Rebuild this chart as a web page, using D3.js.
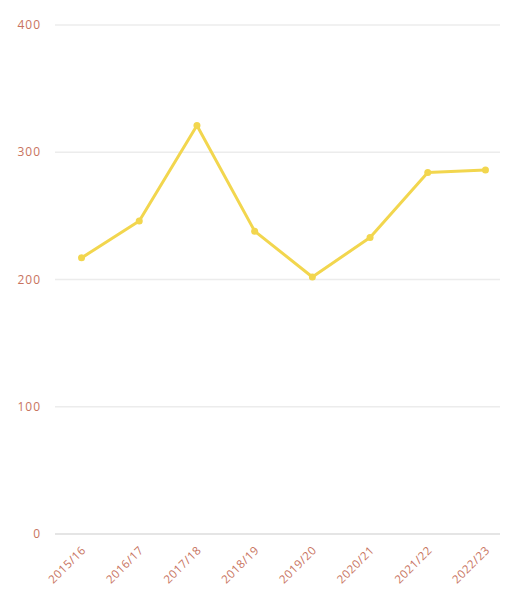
<!DOCTYPE html>
<html>
<head>
<meta charset="utf-8">
<script src="https://cdn.jsdelivr.net/npm/d3@7"></script>
<style>
  body { margin: 0; background: #fff; }
  text { font-family: "Open Sans", sans-serif; }
</style>
</head>
<body>
<svg id="chart"></svg>
<script>
const seasons = ["2015/16", "2016/17", "2017/18", "2018/19", "2019/20", "2020/21", "2021/22", "2022/23"];
const values = [217, 246, 321, 238, 202, 233, 284, 286];
const yTicks = [0, 100, 200, 300, 400];

const width = 505, height = 597;
const svg = d3.select("#chart").attr("width", width).attr("height", height);

const x = d3.scalePoint().domain(seasons).range([55, 512]).padding(0.46);
const y = d3.scaleLinear().domain([0, 400]).range([534, 25]);

// grid lines
svg.append("g").selectAll("line")
  .data(yTicks)
  .join("line")
  .attr("x1", 55).attr("x2", 500)
  .attr("y1", d => y(d)).attr("y2", d => y(d))
  .attr("stroke", d => d === 0 ? "#dcdcdc" : "#ececec")
  .attr("stroke-width", 1.5);

// y labels
svg.append("g").selectAll("text")
  .data(yTicks)
  .join("text")
  .attr("x", 41)
  .attr("y", d => y(d))
  .attr("dy", "0.35em")
  .attr("text-anchor", "end")
  .attr("fill", "#c8735e")
  .style("font-size", "12px")
  .style("letter-spacing", "1px")
  .text(d => d);

// x labels
svg.append("g").selectAll("text")
  .data(seasons)
  .join("text")
  .attr("text-anchor", "end")
  .attr("transform", d => `translate(${x(d) + 5},${551}) rotate(-45)`)
  .attr("fill", "#c8735e")
  .style("font-size", "11.5px")
  .style("letter-spacing", "0.5px")
  .text(d => d);

const line = d3.line()
  .x((d, i) => x(seasons[i]))
  .y(d => y(d));

svg.append("path")
  .datum(values)
  .attr("fill", "none")
  .attr("stroke", "#f2d64e")
  .attr("stroke-width", 3)
  .attr("stroke-linejoin", "round")
  .attr("d", line);

svg.append("g").selectAll("circle")
  .data(values)
  .join("circle")
  .attr("cx", (d, i) => x(seasons[i]))
  .attr("cy", d => y(d))
  .attr("r", 3.5)
  .attr("fill", "#f2d64e");
</script>
</body>
</html>
